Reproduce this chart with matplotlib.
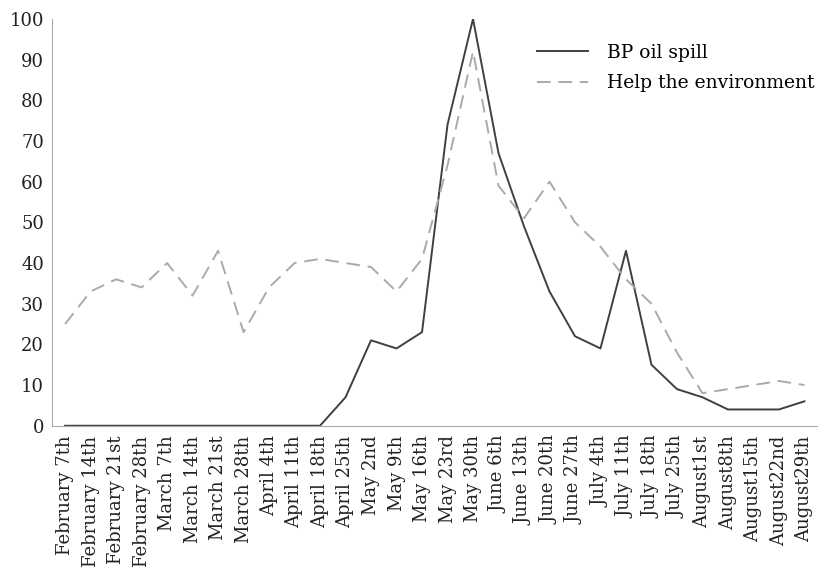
import matplotlib.pyplot as plt

# weekly search interest, 2010
weeks = ['February 7th', 'February 14th', 'February 21st', 'February 28th',
         'March 7th', 'March 14th', 'March 21st', 'March 28th',
         'April 4th', 'April 11th', 'April 18th', 'April 25th',
         'May 2nd', 'May 9th', 'May 16th', 'May 23rd', 'May 30th',
         'June 6th', 'June 13th', 'June 20th', 'June 27th',
         'July 4th', 'July 11th', 'July 18th', 'July 25th',
         'August1st', 'August8th', 'August15th', 'August22nd', 'August29th']
bp_oil_spill = [0, 0, 0, 0, 0, 0, 0, 0, 0, 0, 0, 7, 21, 19, 23, 74, 100,
                67, 49, 33, 22, 19, 43, 15, 9, 7, 4, 4, 4, 6]
help_environment = [25, 33, 36, 34, 40, 32, 43, 23, 34, 40, 41, 40, 39, 33, 41, 64, 92,
                    59, 51, 60, 50, 44, 36, 30, 18, 8, 9, 10, 11, 10]

plt.rcParams['font.family'] = 'DejaVu Serif'
plt.rcParams['font.size'] = 13

fig, ax = plt.subplots(figsize=(8.18, 5.73), dpi=100)
fig.subplots_adjust(left=0.064, right=0.999, top=0.967, bottom=0.257)

x = range(len(weeks))
ax.plot(x, bp_oil_spill, color='#404040', linewidth=1.4, label='BP oil spill')
ax.plot(x, help_environment, color='#aaaaaa', linewidth=1.4, dashes=(7, 4),
        label='Help the environment')

ax.set_xlim(-0.5, len(weeks) - 0.5)
ax.set_ylim(0, 100)
ax.set_yticks(range(0, 101, 10))
ax.set_xticks(list(x))
ax.set_xticklabels(weeks, rotation=90)
ax.tick_params(length=0, colors='#222222', labelsize=13)
ax.tick_params(axis='y', pad=6)
ax.tick_params(axis='x', pad=7)

for side in ['top', 'right']:
    ax.spines[side].set_visible(False)
for side in ['left', 'bottom']:
    ax.spines[side].set_color('#aaaaaa')

ax.legend(loc='upper right', bbox_to_anchor=(1.018, 0.98), frameon=False,
          handlelength=2.7, handletextpad=1.0, labelspacing=0.65, fontsize=13.5)

fig.savefig('out.png', dpi=100)
